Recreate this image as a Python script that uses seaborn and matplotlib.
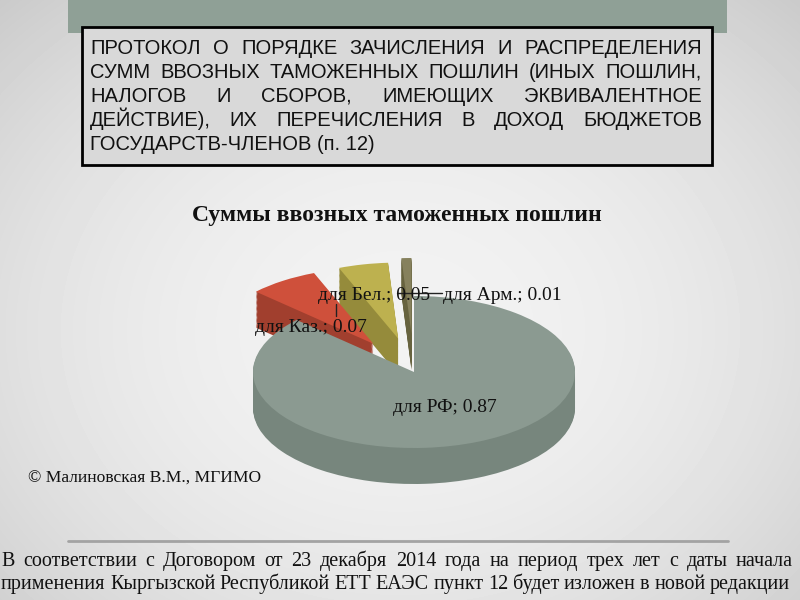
import numpy as np
import matplotlib
matplotlib.use('Agg')
import matplotlib.pyplot as plt
from matplotlib import font_manager
from matplotlib.patches import Rectangle
import seaborn as sns

# chart data
labels = ['для РФ', 'для Каз.', 'для Бел.', 'для Арм.']
shares = [0.87, 0.07, 0.05, 0.01]
explode = [0.0, 0.45, 0.45, 0.5]

title = 'Суммы ввозных таможенных пошлин'
header_lines = [
    'ПРОТОКОЛ О ПОРЯДКЕ ЗАЧИСЛЕНИЯ И РАСПРЕДЕЛЕНИЯ',
    'СУММ ВВОЗНЫХ ТАМОЖЕННЫХ ПОШЛИН (ИНЫХ ПОШЛИН,',
    'НАЛОГОВ И СБОРОВ, ИМЕЮЩИХ ЭКВИВАЛЕНТНОЕ',
    'ДЕЙСТВИЕ), ИХ ПЕРЕЧИСЛЕНИЯ В ДОХОД БЮДЖЕТОВ',
    'ГОСУДАРСТВ-ЧЛЕНОВ (п. 12)',
]
footer_lines = [
    'В соответствии с Договором от 23 декабря 2014 года  на период трех лет с даты начала',
    'применения Кыргызской Республикой  ЕТТ ЕАЭС пункт 12 будет изложен в новой редакции',
]
credit = '© Малиновская В.М., МГИМО'

top_colors = ['#8b9a91', '#cf503b', '#bdb14f', '#86815d']
side_colors = ['#77867d', '#a13f2e', '#958b3b', '#67633f']


def pick_font(*names):
    for n in names:
        try:
            font_manager.findfont(font_manager.FontProperties(family=n),
                                  fallback_to_default=False)
            return n
        except ValueError:
            continue
    return 'DejaVu Sans'


sns.set_theme(style='white')
serif = pick_font('Liberation Serif', 'DejaVu Serif')
narrow = pick_font('Liberation Sans Narrow', 'Liberation Sans', 'DejaVu Sans')
plt.rcParams['font.family'] = [serif, 'DejaVu Sans']

fig = plt.figure(figsize=(8, 6), dpi=100)

# background, pixel coordinates
bg = fig.add_axes([0, 0, 1, 1])
yy, xx = np.mgrid[0:600, 0:800]
r2 = ((xx - 400) / 520.0) ** 2 + ((yy - 330) / 420.0) ** 2
shade = np.clip(0.95 - 0.13 * r2, 0, 1)
bg.imshow(shade, cmap='gray', vmin=0, vmax=1, extent=(0, 800, 600, 0),
          interpolation='bilinear')
bg.set_xlim(0, 800)
bg.set_ylim(600, 0)
bg.axis('off')

bg.add_patch(Rectangle((68, 0), 659, 33, facecolor='#8fa096', edgecolor='none'))
bg.add_patch(Rectangle((82, 27), 630, 138, facecolor='#d9d9d9',
                       edgecolor='black', linewidth=2))
bg.plot([68, 728], [541, 541], color='#a3a3a3', linewidth=2)

renderer = fig.canvas.get_renderer()


def justify(ax, line, x0, x1, y, **kw):
    words = line.split()
    texts = [ax.text(0, y, w, va='baseline', ha='left', **kw) for w in words]
    widths = [t.get_window_extent(renderer=renderer).width for t in texts]
    gap = (x1 - x0 - sum(widths)) / max(len(words) - 1, 1)
    x = x0
    for t, w in zip(texts, widths):
        t.set_x(x)
        x += w + gap


header_base = [53.5, 77.5, 102, 126, 150.5]
for i, (line, yb) in enumerate(zip(header_lines, header_base)):
    if i < len(header_lines) - 1:
        justify(bg, line, 90, 702, yb, fontsize=14.5, family=narrow, color='#111111')
    else:
        bg.text(90, yb, line, va='baseline', ha='left', fontsize=14.5,
                family=narrow, color='#111111')

bg.text(397, 221, title, ha='center', va='baseline', fontsize=17,
        fontweight='bold', color='#111111')
bg.text(28, 483, credit, ha='left', va='baseline', fontsize=12.6, color='#111111')

justify(bg, footer_lines[0], 1, 793, 566, fontsize=14.5, color='#111111')
justify(bg, footer_lines[1], 1, 790, 589, fontsize=14.5, color='#111111')

# 3D-looking pie: stacked side layers, then the top face
cx, cy, rx, ry = 414, 372, 161, 76
depth = 36 / ry
pax = fig.add_axes([0, 0, 1, 1])
pax.patch.set_alpha(0)
n_layers = 30
for k in range(n_layers, 0, -1):
    off = depth * k / n_layers
    pax.pie(shares, explode=explode, startangle=90, counterclock=False,
            colors=side_colors, center=(0, -off),
            wedgeprops=dict(linewidth=0, antialiased=True))
pax.pie(shares, explode=explode, startangle=90, counterclock=False,
        colors=top_colors, center=(0, 0), wedgeprops=dict(linewidth=0))
pax.set_aspect('auto')
pax.set_xlim(-cx / rx, (800 - cx) / rx)
pax.set_ylim(-(600 - cy) / ry, cy / ry)
pax.axis('off')

# data labels
lab = fig.add_axes([0, 0, 1, 1])
lab.set_xlim(0, 800)
lab.set_ylim(600, 0)
lab.axis('off')
lab.patch.set_alpha(0)
label_pos = [(445, 407), (311, 327), (374, 295), (502, 295)]
for name, val, (lx, ly) in zip(labels, shares, label_pos):
    lab.text(lx, ly, f'{name}; {val:.2f}', ha='center', va='center',
             fontsize=14, color='#111111')
lab.plot([336, 336], [304, 316], color='#222222', linewidth=1)
lab.plot([397, 442], [293, 293], color='#222222', linewidth=1)

fig.savefig('out.png', dpi=100)
